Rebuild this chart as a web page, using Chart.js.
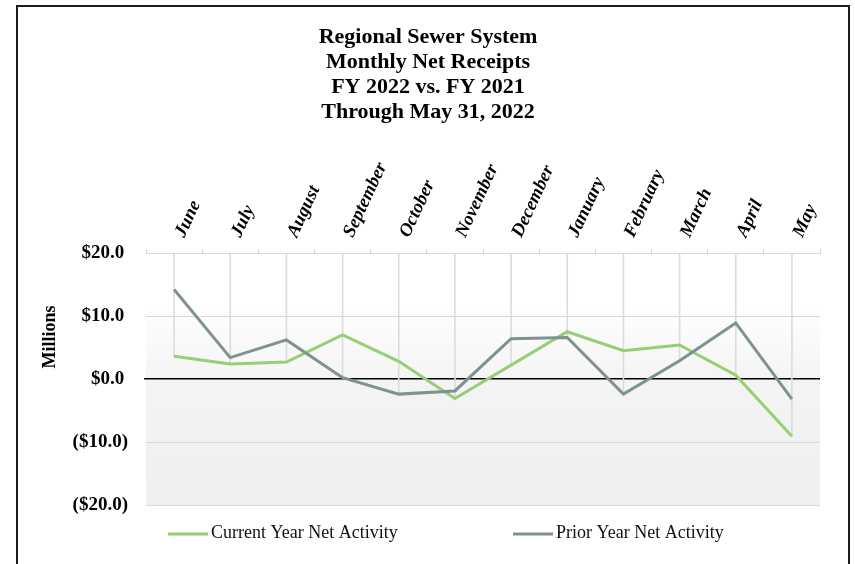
<!DOCTYPE html>
<html><head><meta charset="utf-8">
<script src="https://cdn.jsdelivr.net/npm/chart.js@4"></script>
<style>
html,body{margin:0;padding:0;background:#fff;width:855px;height:564px;overflow:hidden;}
#frame{position:absolute;left:16px;top:5px;width:834px;height:620px;border:2px solid #1c1c1c;box-sizing:border-box;}
#wrap{position:absolute;left:0;top:0;width:855px;height:564px;}
</style></head><body>
<div id="frame"></div>
<div id="wrap"><canvas id="c" width="855" height="564"></canvas></div>
<script>
const titleLines = ['Regional Sewer System', 'Monthly Net Receipts', 'FY 2022 vs. FY 2021', 'Through May 31, 2022'];
const months = ['June', 'July', 'August', 'September', 'October', 'November', 'December', 'January', 'February', 'March', 'April', 'May'];
const currentYear = [3.6, 2.4, 2.7, 7.0, 2.8, -3.1, 2.2, 7.5, 4.5, 5.4, 0.6, -9.1];
const priorYear = [14.2, 3.4, 6.2, 0.2, -2.4, -1.9, 6.4, 6.6, -2.4, 2.9, 8.9, -3.2];
const yTickValues = [-20, -10, 0, 10, 20];
const seriesNames = ['Current Year Net Activity', 'Prior Year Net Activity'];
const yAxisTitle = 'Millions';

const GREEN = '#96cf74';
const GRAY = '#809191';
const yTop = Math.max(...yTickValues);
const yBottom = Math.min(...yTickValues);
const dropLines = months.map((m, i) => [Math.min(currentYear[i], priorYear[i]), yTop]);

const fmt = v => v < 0 ? '($' + Math.abs(v).toFixed(1) + ')' : '$' + v.toFixed(1) + '\u2009';

const bgPlugin = {
  id: 'plotBg',
  beforeDraw(chart) {
    const {ctx, chartArea: a} = chart;
    const g = ctx.createLinearGradient(0, a.top, 0, a.bottom);
    g.addColorStop(0, '#ffffff');
    g.addColorStop(0.2, '#ffffff');
    g.addColorStop(0.5, '#f4f4f4');
    g.addColorStop(1, '#efefef');
    ctx.save();
    ctx.fillStyle = g;
    ctx.fillRect(a.left, a.top, a.right - a.left, a.bottom - a.top);
    ctx.restore();
  }
};

const extrasPlugin = {
  id: 'extras',
  afterDraw(chart) {
    const ctx = chart.ctx;
    ctx.save();
    // y axis title
    ctx.translate(50, 337);
    ctx.rotate(-Math.PI / 2);
    ctx.font = 'bold 18px "Liberation Serif"';
    ctx.fillStyle = '#000';
    ctx.textAlign = 'center';
    ctx.textBaseline = 'middle';
    ctx.fillText(yAxisTitle, 0, 0);
    ctx.restore();
    // legend
    const starts = [168, 513];
    const ly = 533;
    ctx.save();
    ctx.font = '18px "Liberation Serif"';
    ctx.textBaseline = 'middle';
    ctx.textAlign = 'left';
    chart.data.datasets.filter(d => d.type === 'line').forEach((d, i) => {
      const x0 = starts[i];
      ctx.strokeStyle = d.borderColor;
      ctx.lineWidth = 3;
      ctx.beginPath();
      ctx.moveTo(x0, ly + 1);
      ctx.lineTo(x0 + 40, ly + 1);
      ctx.stroke();
      ctx.fillStyle = '#111';
      ctx.fillText(d.label, x0 + 43, ly);
    });
    ctx.restore();
  }
};

new Chart(document.getElementById('c'), {
  type: 'line',
  data: {
    labels: months,
    datasets: [
      {type: 'line', label: seriesNames[0], data: currentYear, borderColor: GREEN, backgroundColor: GREEN, borderWidth: 3, pointRadius: 0, tension: 0, order: 2},
      {type: 'line', label: seriesNames[1], data: priorYear, borderColor: GRAY, backgroundColor: GRAY, borderWidth: 3, pointRadius: 0, tension: 0, order: 1},
      {type: 'bar', label: 'drop', data: dropLines, backgroundColor: '#dcdcdc', barThickness: 1, grouped: false, order: 3}
    ]
  },
  options: {
    responsive: false,
    animation: false,
    layout: {padding: {left: 36, right: 35, top: 0, bottom: 59}},
    plugins: {
      legend: {display: false},
      tooltip: {enabled: false},
      title: {
        display: true, text: titleLines, color: '#000',
        font: {family: 'Liberation Serif', weight: 'bold', size: 22, lineHeight: '25px'},
        padding: {top: 25, bottom: 0}
      }
    },
    scales: {
      x: {
        type: 'category', position: 'top', offset: true,
        grid: {offset: true, drawOnChartArea: false, drawTicks: true, tickLength: 4, color: '#d0d0d0'},
        border: {display: true, color: '#d9d9d9'},
        ticks: {minRotation: 65, maxRotation: 65, autoSkip: false, padding: 8, labelOffset: 26, color: '#000',
          font: {family: 'Liberation Serif', weight: 'bold', style: 'italic', size: 18.5}},
        afterFit(s) { s.height = 128; }
      },
      y: {
        min: yBottom, max: yTop,
        afterBuildTicks(s) { s.ticks = yTickValues.map(v => ({value: v})); },
        afterFit(s) { s.width = 110; },
        border: {display: false},
        grid: {
          color: c => (c.tick && c.tick.value === 0) ? '#000' : '#d9d9d9',
          lineWidth: c => (c.tick && c.tick.value === 0) ? 1.5 : 1,
          drawTicks: true, tickLength: 2,
          tickColor: c => (c.tick && c.tick.value === 0) ? '#000' : 'rgba(0,0,0,0)'
        },
        ticks: {padding: 16, color: '#000', callback: v => fmt(v),
          font: {family: 'Liberation Serif', weight: 'bold', size: 19}}
      }
    }
  },
  plugins: [bgPlugin, extrasPlugin]
});
</script>
</body></html>
